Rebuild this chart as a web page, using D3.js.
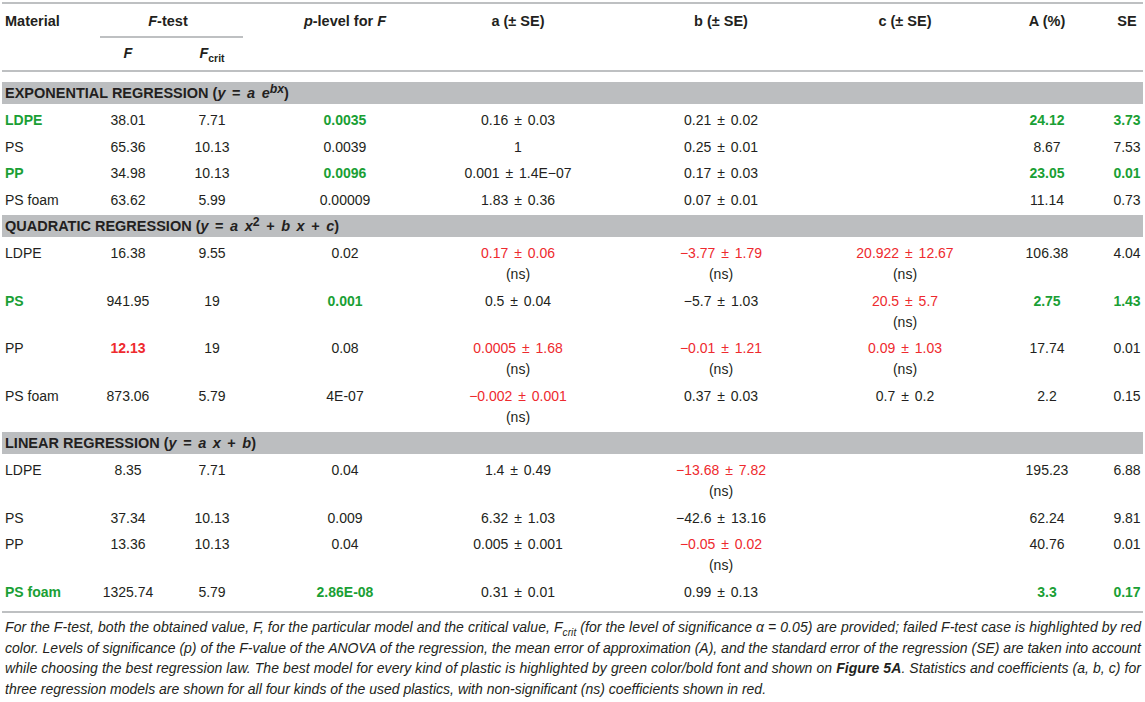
<!DOCTYPE html>
<html>
<head>
<meta charset="utf-8">
<script src="https://cdn.jsdelivr.net/npm/d3@7"></script>
<style>
  body { margin: 0; background: #fff; }
  svg text { font-family: "Liberation Sans", Arial, Helvetica, sans-serif; fill: #231f20; }
</style>
</head>
<body>
<script>
// table data, one array per column, [model][material]
const materials = ["LDPE", "PS", "PP", "PS foam"];
const modelNames = ["EXPONENTIAL REGRESSION", "QUADRATIC REGRESSION", "LINEAR REGRESSION"];
const modelFormulas = [
  [["y", 1], [" = "], ["a e", 1], ["bx", 1, "sup"]],
  [["y", 1], [" = "], ["a x", 1], ["2", 0, "sup"], [" + "], ["b x", 1], [" + "], ["c", 1]],
  [["y", 1], [" = "], ["a x", 1], [" + "], ["b", 1]]
];
const fValues = [
  ["38.01", "65.36", "34.98", "63.62"],
  ["16.38", "941.95", "12.13", "873.06"],
  ["8.35", "37.34", "13.36", "1325.74"]
];
const fCrit = [
  ["7.71", "10.13", "10.13", "5.99"],
  ["9.55", "19", "19", "5.79"],
  ["7.71", "10.13", "10.13", "5.79"]
];
const pLevel = [
  ["0.0035", "0.0039", "0.0096", "0.00009"],
  ["0.02", "0.001", "0.08", "4E-07"],
  ["0.04", "0.009", "0.04", "2.86E-08"]
];
const coefA = [
  ["0.16 ± 0.03", "1", "0.001 ± 1.4E\u221207", "1.83 ± 0.36"],
  ["0.17 ± 0.06", "0.5 ± 0.04", "0.0005 ± 1.68", "\u22120.002 ± 0.001"],
  ["1.4 ± 0.49", "6.32 ± 1.03", "0.005 ± 0.001", "0.31 ± 0.01"]
];
const coefB = [
  ["0.21 ± 0.02", "0.25 ± 0.01", "0.17 ± 0.03", "0.07 ± 0.01"],
  ["\u22123.77 ± 1.79", "\u22125.7 ± 1.03", "\u22120.01 ± 1.21", "0.37 ± 0.03"],
  ["\u221213.68 ± 7.82", "\u221242.6 ± 13.16", "\u22120.05 ± 0.02", "0.99 ± 0.13"]
];
const coefC = [
  ["", "", "", ""],
  ["20.922 ± 12.67", "20.5 ± 5.7", "0.09 ± 1.03", "0.7 ± 0.2"],
  ["", "", "", ""]
];
const approxError = [
  ["24.12", "8.67", "23.05", "11.14"],
  ["106.38", "2.75", "17.74", "2.2"],
  ["195.23", "62.24", "40.76", "3.3"]
];
const stdError = [
  ["3.73", "7.53", "0.01", "0.73"],
  ["4.04", "1.43", "0.01", "0.15"],
  ["6.88", "9.81", "0.01", "0.17"]
];
// best model index per material, failed F-test, non-significant coefficients
const bestModel = [0, 1, 0, 2];
const failedF = [[1, 2]];
const nonSignificant = [
  [[], [], [], []],
  [["a", "b", "c"], ["c"], ["a", "b", "c"], ["a"]],
  [["b"], [], ["b"], []]
];
const footnote = [
  [["For the F-test, both the obtained value, F, for the particular model and the critical value, F"], ["crit", "sub"], [" (for the level of significance \u03b1 = 0.05) are provided; failed F-test case is highlighted by red"]],
  [["color. Levels of significance (p) of the F-value of the ANOVA of the regression, the mean error of approximation (A), and the standard error of the regression (SE) are taken into account"]],
  [["while choosing the best regression law. The best model for every kind of plastic is highlighted by green color/bold font and shown on "], ["Figure 5A", "bold"], [". Statistics and coefficients (a, b, c) for"]],
  [["three regression models are shown for all four kinds of the used plastics, with non-significant (ns) coefficients shown in red."]]
];

const width = 1145, height = 702;
const green = "#1a9f35", red = "#ee2a2e", ruleColor = "#a9abae", bandColor = "#bcbec0";
const bandH = 22, rowH = 26.5, nsH = 21, left = 2, right = 1143;

const columns = ["material", "F", "Fcrit", "p", "a", "b", "c", "A", "SE"];
const colX = d3.scaleOrdinal().domain(columns).range([5, 128, 212, 345, 518, 721, 905, 1047, 1127]);

const svg = d3.select("body").append("svg").attr("width", width).attr("height", height);

// rules
const rules = [[left, right, 3], [100, 243, 37], [left, right, 71], [left, right, 612]];
svg.selectAll("line.rule")
  .data(rules)
  .enter()
  .append("line")
  .attr("class", "rule")
  .attr("x1", (d) => d[0])
  .attr("x2", (d) => d[1])
  .attr("y1", (d) => d[2])
  .attr("y2", (d) => d[2])
  .attr("stroke", ruleColor)
  .attr("stroke-width", 1.5);

// tspans with italic / bold / sub / sup parts
function addSpans(sel, parts) {
  let shift = 0;
  parts.forEach((p) => {
    let t = sel.append("tspan").text(p.text);
    let s = p.sup ? -5 : p.sub ? 4 : 0;
    if (s != shift) t.attr("dy", s - shift);
    shift = s;
    if (p.italic) t.attr("font-style", "italic");
    if (p.bold) t.attr("font-weight", "bold");
    if (p.math) t.style("word-spacing", "2.5px");
    if (p.sup) t.attr("font-size", "0.85em");
    if (p.sub) t.attr("font-size", "0.72em");
  });
}

const header = [
  { col: "material", y: 21, anchor: "start", parts: [{ text: "Material" }] },
  { col: null, x: 168, y: 21, parts: [{ text: "F", italic: 1 }, { text: "-test" }] },
  { col: "p", y: 21, parts: [{ text: "p", italic: 1 }, { text: "-level for " }, { text: "F", italic: 1 }] },
  { col: "a", y: 21, parts: [{ text: "a (± SE)" }] },
  { col: "b", y: 21, parts: [{ text: "b (± SE)" }] },
  { col: "c", y: 21, parts: [{ text: "c (± SE)" }] },
  { col: "A", y: 21, parts: [{ text: "A (%)" }] },
  { col: "SE", y: 21, parts: [{ text: "SE" }] },
  { col: "F", y: 53, parts: [{ text: "F", italic: 1 }] },
  { col: "Fcrit", y: 53, parts: [{ text: "F", italic: 1 }, { text: "crit", sub: 1 }] }
];

svg.selectAll("text.head")
  .data(header)
  .enter()
  .append("text")
  .attr("class", "head")
  .attr("x", (d) => (d.col ? colX(d.col) : d.x))
  .attr("y", (d) => d.y)
  .attr("dy", "0.35em")
  .attr("text-anchor", (d) => d.anchor || "middle")
  .attr("font-weight", "bold")
  .attr("font-size", "14.5px")
  .each(function (d) {
    addSpans(d3.select(this), d.parts);
  });

// layout of bands and rows
let bands = [], rows = [];
let y = 82;
modelNames.forEach((name, mi) => {
  bands.push({ mi, y });
  y += bandH + 3;
  materials.forEach((mat, i) => {
    rows.push({ mi, i, y: y + rowH / 2 });
    y += nonSignificant[mi][i].length ? rowH + nsH : rowH;
  });
  y += 2;
});

svg.selectAll("rect.band")
  .data(bands)
  .enter()
  .append("rect")
  .attr("class", "band")
  .attr("x", left)
  .attr("y", (d) => d.y)
  .attr("width", right - left)
  .attr("height", bandH)
  .attr("fill", bandColor);

svg.selectAll("text.band")
  .data(bands)
  .enter()
  .append("text")
  .attr("class", "band")
  .attr("x", 5)
  .attr("y", (d) => d.y + bandH / 2)
  .attr("dy", "0.35em")
  .attr("font-weight", "bold")
  .attr("font-size", "14.5px")
  .each(function (d) {
    let parts = [{ text: modelNames[d.mi] + " (" }];
    modelFormulas[d.mi].forEach((f) => {
      parts.push({ text: f[0], italic: f[1], sup: f[2] == "sup", math: true });
    });
    parts.push({ text: ")" });
    addSpans(d3.select(this), parts);
  });

// cells
function cellsFor(r) {
  let best = bestModel[r.i] == r.mi;
  let failed = failedF.some((f) => f[0] == r.mi && f[1] == r.i);
  let ns = nonSignificant[r.mi][r.i];
  let vals = {
    material: materials[r.i],
    F: fValues[r.mi][r.i],
    Fcrit: fCrit[r.mi][r.i],
    p: pLevel[r.mi][r.i],
    a: coefA[r.mi][r.i],
    b: coefB[r.mi][r.i],
    c: coefC[r.mi][r.i],
    A: approxError[r.mi][r.i],
    SE: stdError[r.mi][r.i]
  };
  return columns.map((col) => {
    let cell = { col, y: r.y, text: vals[col], color: null, bold: false, ns: false };
    if (best && ["material", "p", "A", "SE"].includes(col)) {
      cell.color = green;
      cell.bold = true;
    }
    if (col == "F" && failed) {
      cell.color = red;
      cell.bold = true;
    }
    if (ns.includes(col)) {
      cell.color = red;
      cell.ns = true;
    }
    return cell;
  });
}

const cells = rows.flatMap(cellsFor).filter((d) => d.text != "");

svg.selectAll("text.cell")
  .data(cells)
  .enter()
  .append("text")
  .attr("class", "cell")
  .attr("x", (d) => colX(d.col))
  .attr("y", (d) => d.y)
  .attr("dy", "0.35em")
  .attr("text-anchor", (d) => (d.col == "material" ? "start" : "middle"))
  .attr("font-size", "14px")
  .attr("font-weight", (d) => (d.bold ? "bold" : "normal"))
  .style("word-spacing", (d) => (["a", "b", "c"].includes(d.col) ? "2px" : null))
  .style("fill", (d) => d.color)
  .text((d) => d.text);

svg.selectAll("text.ns")
  .data(cells.filter((d) => d.ns))
  .enter()
  .append("text")
  .attr("class", "ns")
  .attr("x", (d) => colX(d.col))
  .attr("y", (d) => d.y + nsH)
  .attr("dy", "0.35em")
  .attr("text-anchor", "middle")
  .attr("font-size", "14px")
  .text("(ns)");

// footnote
svg.selectAll("text.note")
  .data(footnote)
  .enter()
  .append("text")
  .attr("class", "note")
  .attr("x", 5)
  .attr("y", (d, i) => 627 + i * 20.6)
  .attr("dy", "0.35em")
  .attr("font-size", "14px")
  .attr("font-style", "italic")
  .each(function (d, i) {
    let parts = d.map((p) => ({ text: p[0], sub: p[1] == "sub", bold: p[1] == "bold" }));
    addSpans(d3.select(this), parts);
    if (i < footnote.length - 1) {
      d3.select(this).attr("textLength", 1136).attr("lengthAdjust", "spacing");
    }
  });
</script>
</body>
</html>
